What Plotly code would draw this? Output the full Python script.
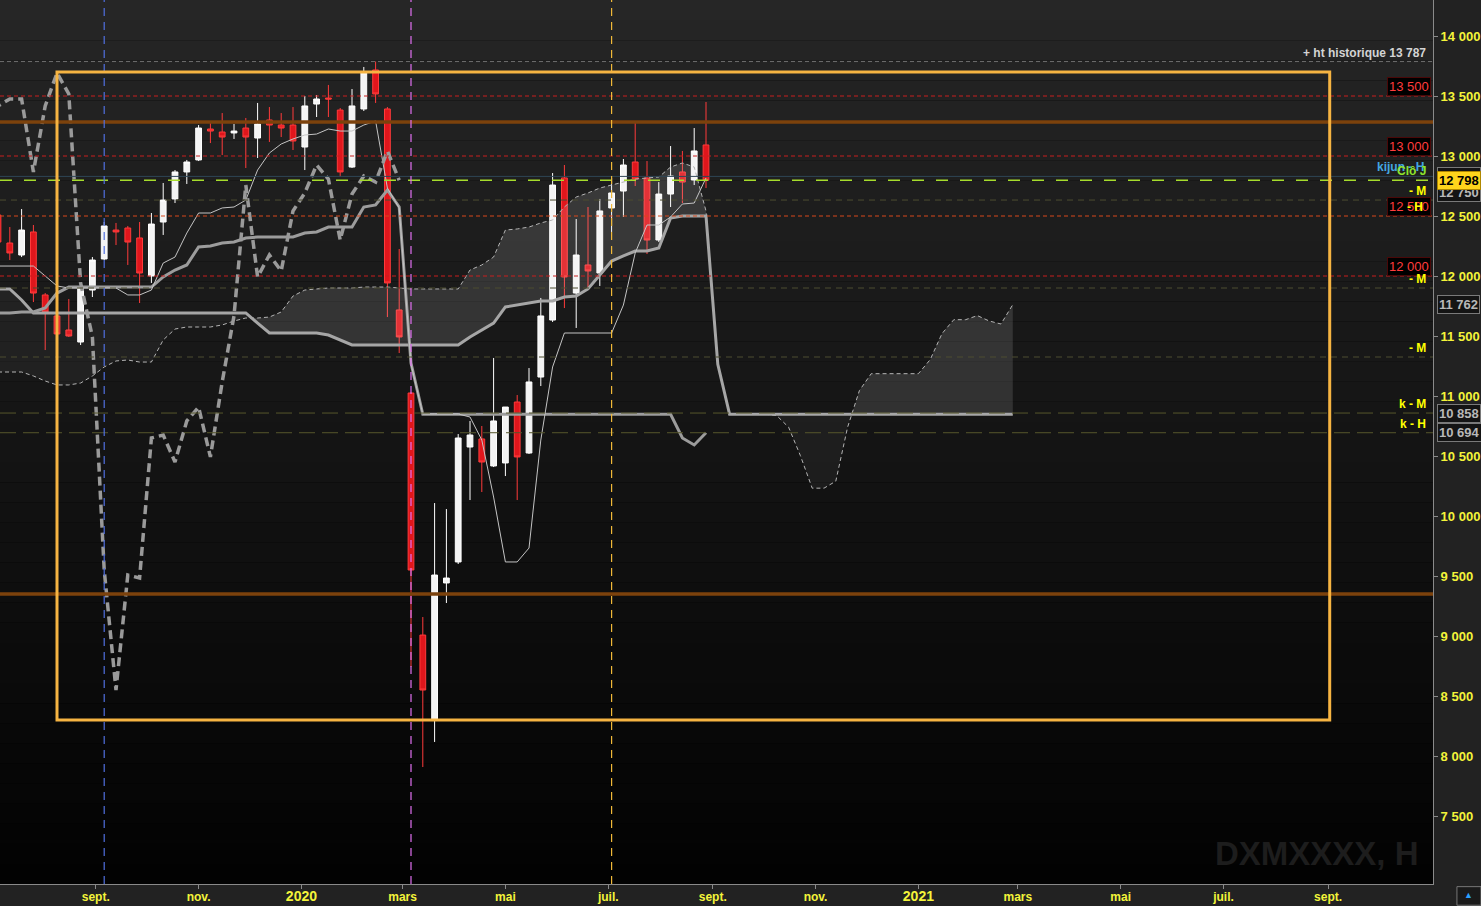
import numpy as np
import pandas as pd
import plotly.graph_objects as go

# ---------------- data ----------------
dates = pd.date_range(end="2020-08-28", periods=61, freq="7D")   # weekly bars
future_dates = pd.date_range(start=dates[0], periods=87, freq="7D")  # cloud (+26 weeks)

opens = [12508, 12275, 12175, 12367, 11842, 11667, 11550, 11450, 11883, 12142,
         12383, 12400, 12317, 12000, 12450, 12642, 12867, 12967, 13225, 13200,
         13192, 13233, 13150, 13300, 13258, 13258, 13075, 13433, 13483, 13383,
         12908, 13392, 13717, 13392, 11717, 11025, 9008, 8300, 9442, 9617,
         10575, 10642, 10417, 10442, 10950, 10525, 11158, 11633, 12817, 11858,
         12092, 12025, 12567, 12708, 12950, 12817, 12300, 12683, 12867, 12800, 13092]
highs = [12550, 12408, 12558, 12425, 11858, 11683, 11808, 11942, 12158, 12450,
         12442, 12417, 12450, 12525, 12775, 12883, 12967, 13258, 13275, 13358,
         13267, 13317, 13442, 13408, 13358, 13408, 13500, 13508, 13592, 13400,
         13558, 13742, 13787, 13408, 12225, 11033, 9158, 10108, 10058, 10683,
         10792, 10750, 11317, 10908, 11008, 11233, 11817, 12858, 12925, 12475,
         12575, 12642, 12817, 12975, 13275, 12958, 12783, 13083, 13042, 13233, 13450]
lows = [12217, 12133, 12158, 11783, 11383, 11500, 11492, 11425, 11825, 12133,
        12258, 12092, 11775, 11942, 12342, 12608, 12767, 12958, 13108, 13008,
        13142, 12900, 12983, 13117, 13158, 13050, 12883, 13325, 13325, 12825,
        12900, 13375, 13442, 11658, 11358, 8742, 7908, 8117, 9275, 9600,
        10133, 10200, 10408, 10333, 10133, 10517, 11083, 11617, 11733, 11567,
        11908, 11917, 12367, 12492, 12750, 12183, 12283, 12575, 12608, 12758, 12733]
closes = [12283, 12192, 12383, 11858, 11700, 11517, 11500, 11900, 12133, 12417,
          12367, 12283, 12025, 12433, 12633, 12867, 12950, 13233, 13208, 13158,
          13208, 13158, 13267, 13258, 13233, 13125, 13417, 13475, 13475, 12867,
          13417, 13692, 13517, 11942, 11492, 9550, 8550, 9508, 9483, 10650,
          10675, 10450, 10792, 10908, 10492, 11117, 11667, 12758, 11992, 12175,
          12042, 12542, 12692, 12925, 12808, 12300, 12683, 12833, 12783, 13042, 12798]

tenkan = [12083, 12083, 12083, 12083, 12000, 11917, 11900, 11900, 11900, 11900,
          11900, 11842, 11842, 11883, 12108, 12158, 12358, 12525, 12525, 12567,
          12575, 12633, 12883, 13025, 13100, 13142, 13175, 13183, 13225, 13208,
          13208, 13258, 13292, 12733, 12567, 11267, 10850, 10850, 10850, 10850,
          10825, 10633, 10158, 9617, 9617, 9733, 10633, 11242, 11525, 11525,
          11525, 11525, 11525, 11758, 12192, 12425, 12425, 12492, 12600, 12608, 12817]
kijun = [11692, 11692, 11700, 11700, 11733, 11858, 11908, 11908, 11908, 11908,
         11908, 11908, 11908, 11908, 11992, 12050, 12092, 12242, 12250, 12275,
         12283, 12317, 12325, 12325, 12325, 12325, 12358, 12367, 12408, 12408,
         12408, 12575, 12592, 12717, 12575, 11275, 10848, 10848, 10848, 10848,
         10848, 10848, 10848, 10848, 10848, 10848, 10848, 10848, 10848, 10848,
         10848, 10848, 10848, 10848, 10848, 10848, 10848, 10848, 10650, 10592, 10694]
senkou_a = [11200, 11200, 11200, 11167, 11125, 11092, 11092, 11108, 11167, 11242,
            11292, 11300, 11283, 11283, 11467, 11558, 11575, 11575, 11575, 11592,
            11625, 11650, 11650, 11658, 11700, 11833, 11883, 11892, 11900, 11900,
            11900, 11908, 11908, 11908, 11900, 11892, 11892, 11892, 11892, 11892,
            12050, 12092, 12158, 12383, 12392, 12408, 12442, 12467, 12575, 12658,
            12692, 12733, 12758, 12783, 12808, 12817, 12825, 12908, 12942, 12908,
            12542, 11271, 10849, 10849, 10849, 10849, 10836, 10740, 10503, 10232,
            10232, 10290, 10740, 11045, 11186, 11186, 11186, 11186, 11186, 11303,
            11520, 11636, 11636, 11670, 11625, 11600, 11762]
senkou_b = [11892, 11892, 11800, 11692, 11692, 11692, 11692, 11692, 11692, 11692,
            11692, 11692, 11692, 11692, 11692, 11692, 11692, 11692, 11692, 11692,
            11692, 11692, 11608, 11525, 11525, 11525, 11525, 11525, 11508, 11467,
            11425, 11425, 11425, 11425, 11425, 11425, 11425, 11425, 11425, 11425,
            11492, 11550, 11608, 11742, 11758, 11775, 11792, 11792, 11825, 11833,
            11892, 12008, 12125, 12167, 12208, 12208, 12233, 12483, 12500, 12500,
            12500, 11264, 10848, 10848, 10848, 10848, 10848, 10848, 10848, 10848,
            10848, 10848, 10848, 10848, 10848, 10848, 10848, 10848, 10848, 10848,
            10848, 10848, 10848, 10848, 10848, 10848, 10848]

ytick_vals = [7500, 8000, 8500, 9000, 9500, 10000, 10500, 11000, 11500, 12000, 12500, 13000, 13500, 14000]
ytick_text = ["7 500", "8 000", "8 500", "9 000", "9 500", "10 000", "10 500", "11 000",
              "11 500", "12 000", "12 500", "13 000", "13 500", "14 000"]
xtick_vals = ["2019-09-01", "2019-11-01", "2020-01-01", "2020-03-01", "2020-05-01", "2020-07-01",
              "2020-09-01", "2020-11-01", "2021-01-01", "2021-03-01", "2021-05-01", "2021-07-01",
              "2021-09-01"]
xtick_text = ["sept.", "nov.", "<span style='font-size:14px'>2020</span>", "mars", "mai", "juil.",
              "sept.", "nov.", "<span style='font-size:14px'>2021</span>", "mars", "mai", "juil.", "sept."]

red_levels = [13500, 13000, 12500, 12000]
red_level_text = ["13 500", "13 000", "12 500", "12 000"]
hist_high = 13787
brown_levels = [13283, 9350]
close_j = 12798
kijun_h_level = 12830
m_levels = [12633, 11900, 11325]
k_levels = [10858, 10694]
box_rect = dict(x0="2019-08-09", x1="2021-09-02", y0=8300, y1=13700)
vlines = [("2019-09-06", "#5070e0"), ("2020-03-06", "#e070f0"), ("2020-07-03", "#f0b838")]

# ---------------- layout helpers ----------------
PX_PER_DAY = 11.8 / 7.0
x_start = dates[-1] - pd.Timedelta(days=706 / PX_PER_DAY)
x_end = dates[-1] + pd.Timedelta(days=727 / PX_PER_DAY)
FONT = "Liberation Sans, Arial, sans-serif"
YEL = "#f4f43a"

fig = go.Figure()

# ---- cloud fills (with crossing points inserted) ----
t = future_dates.asi8.astype(float)
A = np.array(senkou_a, float)
B = np.array(senkou_b, float)
xs, aa, bb = [], [], []
for k in range(len(t)):
    xs.append(t[k]); aa.append(A[k]); bb.append(B[k])
    if k < len(t) - 1:
        d0, d1 = A[k] - B[k], A[k + 1] - B[k + 1]
        if d0 * d1 < 0:
            f = d0 / (d0 - d1)
            v = A[k] + f * (A[k + 1] - A[k])
            xs.append(t[k] + f * (t[k + 1] - t[k])); aa.append(v); bb.append(v)
xs = pd.to_datetime(np.array(xs).astype("int64"))
aa, bb = np.array(aa), np.array(bb)
up, dn = np.maximum(aa, bb), np.minimum(aa, bb)

common = dict(mode="lines", line=dict(width=0), showlegend=False, hoverinfo="skip")
fig.add_trace(go.Scatter(x=xs, y=bb, **common))
fig.add_trace(go.Scatter(x=xs, y=up, fill="tonexty", fillcolor="rgba(255,255,255,0.12)", **common))
fig.add_trace(go.Scatter(x=xs, y=bb, **common))
fig.add_trace(go.Scatter(x=xs, y=dn, fill="tonexty", fillcolor="rgba(255,255,255,0.045)", **common))

# ---- ichimoku lines ----
fig.add_trace(go.Scatter(x=future_dates, y=senkou_a, mode="lines", showlegend=False, hoverinfo="skip",
                         line=dict(color="#b4b4b4", width=1, dash="4px,3px")))
fig.add_trace(go.Scatter(x=future_dates, y=senkou_b, mode="lines", showlegend=False, hoverinfo="skip",
                         line=dict(color="#a6a6a6", width=3)))
fig.add_trace(go.Scatter(x=dates, y=kijun, mode="lines", showlegend=False, hoverinfo="skip",
                         line=dict(color="#9c9c9c", width=3)))
fig.add_trace(go.Scatter(x=dates, y=tenkan, mode="lines", showlegend=False, hoverinfo="skip",
                         line=dict(color="#c4c4c4", width=1)))
fig.add_trace(go.Scatter(x=dates - pd.Timedelta(weeks=26), y=closes, mode="lines", showlegend=False,
                         hoverinfo="skip", line=dict(color="#9a9a9a", width=3.5, dash="9px,5px")))

# ---- candles ----
fig.add_trace(go.Candlestick(
    x=dates, open=opens, high=highs, low=lows, close=closes, showlegend=False,
    increasing=dict(line=dict(color="#ffffff", width=1), fillcolor="#f4f4f4"),
    decreasing=dict(line=dict(color="#ff3b3b", width=1), fillcolor="#e0161c"),
    whiskerwidth=0))

# ---------------- shapes ----------------
shapes = []
n = 44
for k in range(n):
    g = int(round(2 + 36 * (k + 0.5) / n))
    shapes.append(dict(type="rect", xref="paper", yref="paper", x0=0, x1=1, y0=k / n, y1=(k + 1) / n,
                       fillcolor=f"rgb({g},{g},{g})", line=dict(width=0), layer="below"))

def hline(y, color, width=1, dash="solid"):
    return dict(type="line", xref="paper", yref="y", x0=0, x1=1, y0=y, y1=y,
                line=dict(color=color, width=width, dash=dash))

shapes.append(hline(hist_high, "#6e6e6e", 1, "4px,3px"))
for lv in m_levels:
    shapes.append(hline(lv, "#4c4c30", 1, "6px,5px"))
for lv in k_levels:
    shapes.append(hline(lv, "#56562c", 1, "16px,7px"))
shapes.append(hline(kijun_h_level, "#2e4656", 1))
shapes.append(hline(close_j, "#a6dc2c", 1.5, "12px,12px"))
for lv in red_levels:
    shapes.append(hline(lv, "#d8481c" if lv == 12500 else "#c81e1e", 1, "4px,3px"))
for lv in brown_levels:
    shapes.append(hline(lv, "#7c420c", 3.5))
for xd, col in vlines:
    shapes.append(dict(type="line", xref="x", yref="paper", x0=xd, x1=xd, y0=0, y1=1,
                       line=dict(color=col, width=1.2, dash="8px,6px")))
shapes.append(dict(type="rect", xref="x", yref="y", **box_rect, line=dict(color="#f6b442", width=3)))
# small corner icon
shapes.append(dict(type="rect", xref="paper", yref="paper", x0=1.0167, x1=1.0335, y0=-0.024, y1=-0.003,
                   line=dict(color="#777", width=1), fillcolor="#1a1a1a"))

# ---------------- annotations ----------------
ann = []
ann.append(dict(xref="paper", yref="y", x=1, y=hist_high, xanchor="right", yanchor="bottom",
                xshift=-5, yshift=0, showarrow=False, text="+ ht historique 13 787",
                font=dict(family=FONT, size=12, color="#d4d4d4", weight="bold")))
for lv, tx in zip(red_levels, red_level_text):
    ann.append(dict(xref="paper", yref="y", x=1, y=lv, xanchor="right", yanchor="bottom",
                    xshift=-2, yshift=0, showarrow=False, text=tx, bgcolor="#000000",
                    bordercolor="#4a0808", borderwidth=1, borderpad=1,
                    font=dict(family=FONT, size=13, color="#ff3c3c")))

def side_label(y, text, color, xshift=-5):
    return dict(xref="paper", yref="y", x=1, y=y, xanchor="right", yanchor="bottom",
                xshift=xshift, yshift=0, showarrow=False, text=text,
                font=dict(family=FONT, size=12, color=color, weight="bold"))

ann.append(side_label(kijun_h_level, "kijun - H", "#44a6e2", -7))
ann.append(side_label(close_j, "Clô J", "#8ee42c", -5))
ann.append(side_label(m_levels[0], "- M", "#ffff00"))
ann.append(side_label(12500, "- H", "#ffff00", -8))
ann.append(side_label(m_levels[1], "- M", "#ffff00"))
ann.append(side_label(m_levels[2], "- M", "#ffff00"))
ann.append(side_label(k_levels[0], "k - M", "#ffff00"))
ann.append(side_label(k_levels[1], "k - H", "#ffff00"))

def axis_box(y, text, bg="#141414", fg="#b8b8b8", border="#7a7a7a"):
    return dict(xref="paper", yref="y", x=1, y=y, xanchor="left", yanchor="middle", xshift=4,
                showarrow=False, text=text, bgcolor=bg, bordercolor=border, borderwidth=1, borderpad=1,
                font=dict(family=FONT, size=13, color=fg, weight="bold"))

ann.append(axis_box(12830, "12 830"))
ann.append(axis_box(12700, "12 750"))
ann.append(axis_box(senkou_a[-1], "11 762"))
ann.append(axis_box(10858, "10 858"))
ann.append(axis_box(10694, "10 694"))
ann.append(axis_box(close_j, "12 798", bg="#ffd41c", fg="#000000", border="#b08800"))
ann.append(dict(xref="paper", yref="paper", x=1, y=0.035, xanchor="right", yanchor="middle",
                xshift=-12, showarrow=False, text="DXMXXXX, H",
                font=dict(family=FONT, size=33, color="#1d1d1d", weight="bold")))
ann.append(dict(xref="paper", yref="paper", x=1.025, y=-0.013, xanchor="center", yanchor="middle",
                showarrow=False, text="▲", font=dict(family=FONT, size=9, color="#2aa0ff")))

fig.update_layout(
    width=1481, height=906,
    margin=dict(l=0, r=48, t=0, b=22, pad=0),
    paper_bgcolor="#222222", plot_bgcolor="#000000",
    shapes=shapes, annotations=ann, showlegend=False,
    xaxis=dict(type="date", range=[x_start, x_end], tickvals=xtick_vals, ticktext=xtick_text,
               ticks="outside", ticklen=4, tickcolor="#8a8a8a", showline=True, linecolor="#8a8a8a",
               linewidth=1, showgrid=False, zeroline=False, rangeslider=dict(visible=False),
               ticklabelstandoff=-2,
               tickfont=dict(family=FONT, size=12, color=YEL, weight="bold"), fixedrange=True),
    yaxis=dict(side="right", range=[6933.3, 14300], tickvals=ytick_vals, ticktext=ytick_text,
               ticks="outside", ticklen=4, tickcolor="#8a8a8a", showline=True, linecolor="#8a8a8a",
               linewidth=1, showgrid=False, zeroline=False,
               tickfont=dict(family=FONT, size=13, color=YEL, weight="bold")),
    hovermode=False,
)

fig.write_html("out.html", config={"displayModeBar": False},
               post_script="document.body.style.margin='0';document.body.style.background='#222222';")
